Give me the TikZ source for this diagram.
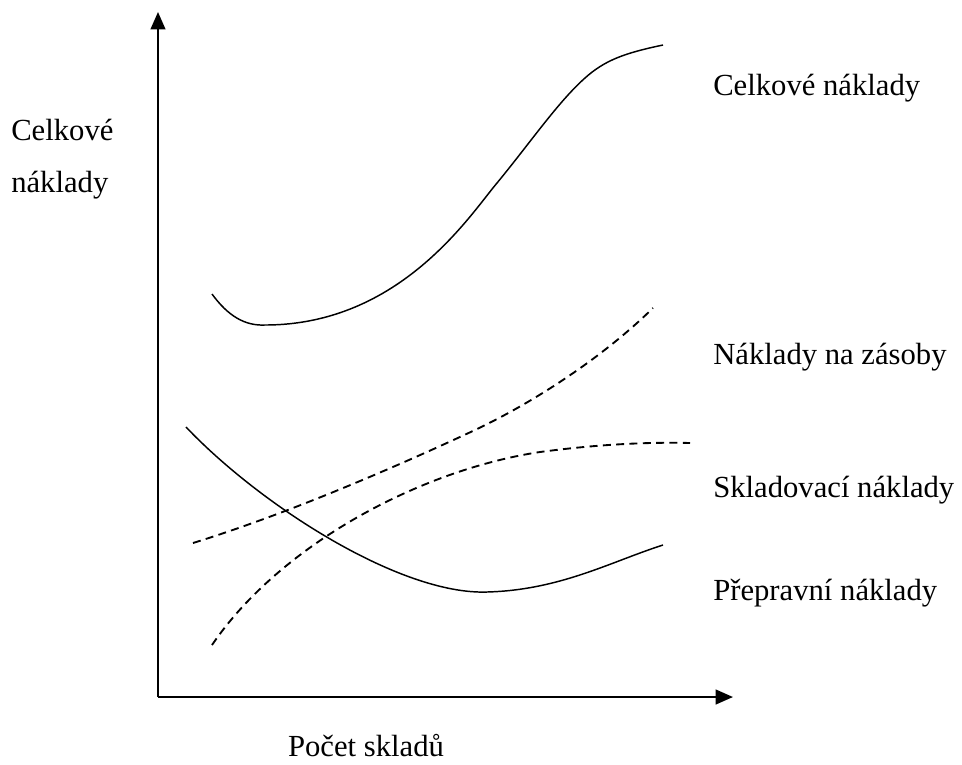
\documentclass[tikz,border=0pt]{standalone}
\usepackage{fontspec}
\setmainfont{Liberation Serif}
\usetikzlibrary{arrows.meta}
\begin{document}
\begin{tikzpicture}[x=0.75pt,y=-0.75pt,
  lbl/.style={font=\fontsize{23}{27}\selectfont, inner sep=0pt, anchor=west},
  axis/.style={line width=1.6pt, -{Triangle[length=13pt,width=11pt]}},
  solidcurve/.style={line width=1.1pt},
  dashcurve/.style={line width=1.4pt, dash pattern=on 6pt off 4pt}]
\useasboundingbox (0,0) rectangle (962,764);
\coordinate (O) at (158,697);
\coordinate (Ytop) at (158,12);
\coordinate (Xend) at (733,697);
\draw[axis] (O) -- (Ytop);
\draw[axis] (O) -- (Xend);
% total cost
\draw[solidcurve] (212,294) .. controls (228,316) and (245,326) .. (265,325)
  .. controls (400,325) and (470,215) .. (497,183)
  .. controls (530,143) and (558,102) .. (585,78)
  .. controls (605,60) and (625,53) .. (663,45);
% transport cost
\draw[solidcurve] (186,427) .. controls (260,505) and (400,595) .. (487,592)
  .. controls (560,590) and (610,562) .. (663,545);
% inventory cost (dashed)
\draw[dashcurve] (193,543) .. controls (290,513) and (400,465) .. (475,430)
  .. controls (530,404) and (600,360) .. (653,308);
% storage cost (dashed)
\draw[dashcurve] (212,645) .. controls (280,545) and (420,470) .. (540,452)
  .. controls (600,444) and (650,442) .. (690,443);
% labels
\node[lbl] (tc) at (713,88) {Celkové náklady};
\node[lbl] (ic) at (713,357) {Náklady na zásoby};
\node[lbl] (sc) at (713,490) {Skladovací náklady};
\node[lbl] (pc) at (713,593) {Přepravní náklady};
\node[lbl] (y1) at (11,130) {Celkové};
\node[lbl] (y2) at (11,185) {náklady};
\node[lbl, anchor=center] (xl) at (366,746) {Počet skladů};
\end{tikzpicture}
\end{document}
